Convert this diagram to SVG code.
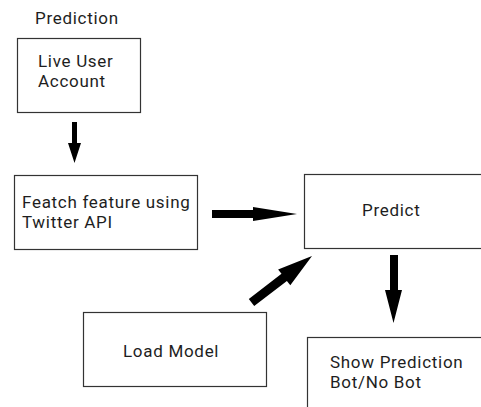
<svg xmlns="http://www.w3.org/2000/svg" width="481" height="407" viewBox="0 0 481 407">
  <style>
    .box { fill: #ffffff; stroke: #333333; stroke-width: 1.2; }
    .lbl { font-family: Roboto, "Noto Sans", "DejaVu Sans", sans-serif; font-size: 17px; letter-spacing: 0.7px; fill: #1e1e1e; }
    .arrow { fill: #000000; stroke: none; }
  </style>
  <rect width="481" height="407" fill="#ffffff"/>

  <text class="lbl" x="35" y="24" font-size="16">Prediction</text>

  <g id="live-user-account">
    <rect class="box" x="17.5" y="38.5" width="123" height="74"/>
    <text class="lbl" x="38" y="67">Live User</text>
    <text class="lbl" x="38" y="87">Account</text>
  </g>

  <g id="fetch-features">
    <rect class="box" x="14.5" y="175.5" width="183" height="74"/>
    <text class="lbl" x="22" y="208">Featch feature using</text>
    <text class="lbl" x="22" y="228">Twitter API</text>
  </g>

  <g id="predict">
    <rect class="box" x="304.5" y="174.5" width="200" height="74"/>
    <text class="lbl" x="362" y="216">Predict</text>
  </g>

  <g id="load-model">
    <rect class="box" x="83.5" y="312.5" width="183" height="74"/>
    <text class="lbl" x="123" y="357">Load Model</text>
  </g>

  <g id="show-prediction">
    <rect class="box" x="307.5" y="337.5" width="200" height="100"/>
    <text class="lbl" x="330" y="368">Show Prediction</text>
    <text class="lbl" x="330" y="388">Bot/No Bot</text>
  </g>

  <g id="connectors">
    <!-- account to feature fetch -->
    <polygon class="arrow" points="72,122 77,122 77,143 81,143 74.5,163 68,143 72,143"/>
    <!-- feature fetch to predict -->
    <polygon class="arrow" points="212,210 253,210 253,207 297,214 253,221 253,218 212,218"/>
    <!-- model to predict -->
    <polygon class="arrow" points="248.8,298.9 281.5,273.7 278.1,269.4 312,256 290.3,285.2 286.9,280.9 254.2,306.1"/>
    <!-- predict to result -->
    <polygon class="arrow" points="390,255 398,255 398,290 402,290 393.5,323 385,290 390,290"/>
  </g>
</svg>
